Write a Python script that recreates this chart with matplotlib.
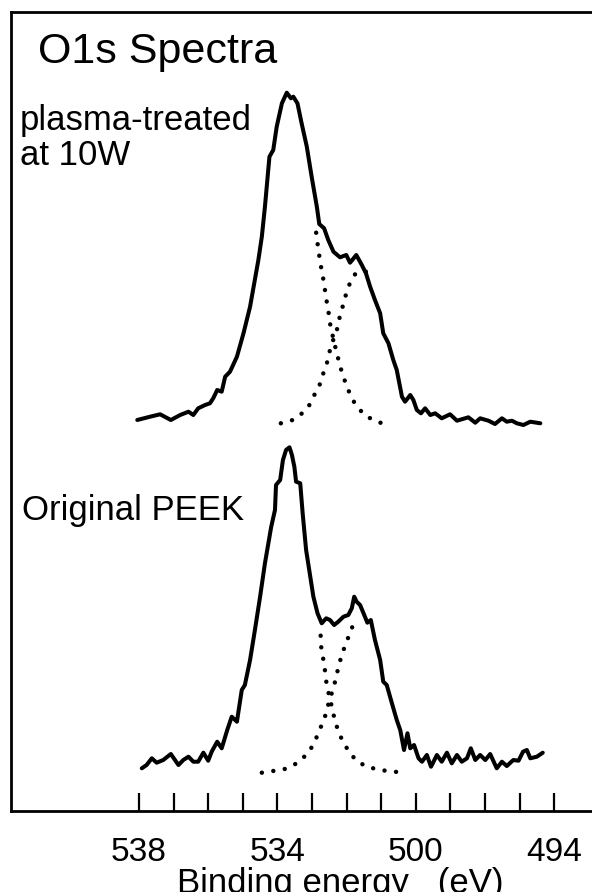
import matplotlib
matplotlib.use("Agg")
import matplotlib.pyplot as plt

plt.rcParams['font.family'] = ['Liberation Sans', 'DejaVu Sans']

# ---------------- data (binding energy in eV, intensity in a.u.) ----------------
treated_E = [538.05, 537.68, 537.39, 537.08, 536.81, 536.57, 536.43, 536.29, 536.09, 535.95,
             535.85, 535.74, 535.61, 535.51, 535.37, 535.17, 534.98, 534.79, 534.55, 534.45,
             534.36, 534.23, 534.12, 534.02, 533.87, 533.73, 533.61, 533.54, 533.42, 533.30,
             533.15, 533.01, 532.86, 532.79, 532.65, 532.53, 532.38, 532.19, 532.01, 531.90,
             531.72, 531.56, 531.44, 531.32, 531.18, 531.03, 530.94, 530.79, 530.65, 530.55,
             530.40, 530.31, 530.16, 530.07, 529.97, 529.85, 529.73, 529.58, 529.44, 529.25,
             529.01, 528.81, 528.48, 528.28, 528.14, 527.90, 527.71, 527.51, 527.37, 527.22,
             527.08, 526.89, 526.69, 526.40]
treated_I = [391.0, 394.3, 396.7, 391.0, 396.0, 399.3, 396.0, 402.7, 406.0, 407.7,
             413.0, 421.0, 419.3, 434.3, 439.3, 454.3, 477.7, 504.3, 551.0, 574.3,
             604.3, 654.3, 661.0, 684.3, 707.7, 718.3, 712.7, 714.3, 707.7, 687.7,
             664.3, 634.3, 604.3, 587.0, 582.7, 571.0, 559.3, 553.7, 556.0, 548.3,
             556.0, 546.0, 537.7, 524.3, 511.0, 497.7, 477.7, 467.7, 451.0, 441.0,
             414.3, 409.3, 416.0, 411.0, 401.0, 397.7, 402.7, 396.0, 397.7, 392.7,
             396.7, 390.3, 393.7, 388.3, 392.7, 390.3, 387.0, 392.7, 389.3, 390.3,
             387.7, 386.0, 389.3, 387.7]

treated_fit1_E = [532.88, 532.84, 532.79, 532.72, 532.65, 532.60, 532.53, 532.48, 532.38, 532.27,
                  532.16, 531.99, 531.78, 531.51, 531.20, 530.82]
treated_fit1_I = [578.3, 567.7, 555.3, 540.3, 527.7, 514.3, 501.0, 487.7, 471.7, 456.0,
                  441.7, 423.7, 408.7, 396.7, 390.3, 386.0]
treated_fit2_E = [533.90, 533.60, 533.34, 533.10, 532.96, 532.79, 532.69, 532.57, 532.48, 532.38,
                  532.25, 532.19, 532.09, 532.01, 531.90, 531.75, 531.61, 531.44]
treated_fit2_I = [387.7, 390.3, 396.0, 404.3, 414.3, 425.0, 436.0, 447.7, 461.0, 471.7,
                  484.3, 496.0, 507.0, 517.7, 528.3, 537.0, 539.3, 539.3]

orig_E = [537.92, 537.78, 537.63, 537.49, 537.30, 537.08, 536.86, 536.72, 536.57, 536.43,
          536.29, 536.14, 536.00, 535.90, 535.74, 535.61, 535.45, 535.32, 535.17, 535.03,
          534.94, 534.79, 534.65, 534.50, 534.36, 534.18, 534.07, 534.04, 533.92, 533.84,
          533.75, 533.65, 533.58, 533.51, 533.46, 533.34, 533.27, 533.17, 533.08, 532.96,
          532.84, 532.72, 532.59, 532.48, 532.36, 532.24, 532.09, 531.95, 531.85, 531.78,
          531.71, 531.61, 531.49, 531.40, 531.30, 531.18, 531.03, 530.94, 530.84, 530.69,
          530.55, 530.45, 530.34, 530.24, 530.16, 530.05, 529.92, 529.82, 529.68, 529.56,
          529.39, 529.25, 529.10, 528.96, 528.81, 528.67, 528.52, 528.41, 528.28, 528.14,
          527.99, 527.85, 527.66, 527.51, 527.37, 527.18, 527.03, 526.90, 526.79, 526.69,
          526.50, 526.33]
orig_I = [42.7, 46.0, 52.7, 48.3, 51.0, 57.0, 46.0, 51.0, 54.3, 49.3,
          49.3, 58.3, 50.3, 59.3, 69.3, 62.7, 81.0, 94.3, 89.3, 121.0,
          126.0, 151.0, 181.0, 214.3, 247.7, 284.0, 301.0, 326.0, 331.0, 351.0,
          361.0, 363.7, 356.0, 344.3, 329.3, 327.7, 297.7, 261.0, 241.0, 214.3,
          197.7, 187.7, 192.7, 191.0, 186.0, 189.3, 194.3, 196.0, 202.7, 214.3,
          209.3, 206.0, 196.0, 188.3, 191.0, 171.0, 151.0, 129.3, 126.0, 107.7,
          91.0, 81.0, 61.0, 77.7, 62.7, 66.0, 52.7, 49.3, 56.0, 44.3,
          56.0, 49.3, 58.3, 47.7, 56.0, 49.3, 52.7, 62.7, 51.0, 56.0,
          51.0, 57.0, 42.7, 49.3, 45.0, 51.0, 50.3, 59.3, 61.0, 52.7,
          54.3, 58.3]

orig_fit1_E = [532.75, 532.73, 532.67, 532.62, 532.57, 532.48, 532.40, 532.30, 532.14, 531.95,
               531.72, 531.42, 531.03, 530.63, 530.26]
orig_fit1_I = [175.3, 162.7, 151.0, 139.3, 124.3, 112.7, 99.3, 86.0, 71.7, 60.3,
               50.3, 44.3, 41.0, 39.3, 38.3]
orig_fit2_E = [534.45, 534.13, 533.81, 533.52, 533.27, 533.08, 532.91, 532.77, 532.62, 532.48,
               532.38, 532.30, 532.21, 532.09, 531.98, 531.90, 531.72]
orig_fit2_I = [38.3, 40.0, 41.7, 46.0, 52.7, 59.3, 70.3, 81.7, 95.0, 112.7,
               122.7, 134.3, 147.7, 161.0, 170.3, 180.3, 190.3]

tick_E = [538, 537, 536, 535, 534, 533, 532, 531, 530, 529, 528, 527, 526]
label_E = [538, 534, 530, 526]
label_text = ["538", "534", "500", "494"]

title_text = "O1s Spectra"
upper_label = ["plasma-treated", "at 10W"]
lower_label = "Original PEEK"
xlabel_text = "Binding energy   (eV)"

# ---------------- figure ----------------
W, H = 592, 892
fig = plt.figure(figsize=(W / 100, H / 100), dpi=100)
ax = fig.add_axes([11 / W, (H - 811) / H, (595 - 11) / W, (811 - 12) / H])

solid = dict(color='black', lw=2.9, solid_joinstyle='round', solid_capstyle='round')
dotted = dict(color='black', lw=3.2, linestyle=(0, (0.01, 2.6)), dash_capstyle='round')

ax.plot(treated_E, treated_I, **solid)
ax.plot(orig_E, orig_I, **solid)
ax.plot(treated_fit1_E, treated_fit1_I, **dotted)
ax.plot(treated_fit2_E, treated_fit2_I, **dotted)
ax.plot(orig_fit1_E, orig_fit1_I, **dotted)
ax.plot(orig_fit2_E, orig_fit2_I, **dotted)

ax.set_xlim(541.70, 524.82)
ax.set_ylim(0, 799)

ax.set_xticks(label_E)
ax.set_xticklabels(label_text)
ax.set_xticks([e for e in tick_E if e not in label_E], minor=True)
ax.tick_params(axis='x', which='both', direction='in', length=13, width=1.6)
ax.tick_params(axis='x', which='major', pad=19, labelsize=24)
ax.set_yticks([])

for side in ['left', 'top', 'bottom']:
    ax.spines[side].set_linewidth(2.0)
ax.spines['right'].set_visible(False)

fig.text(38 / W, (H - 63) / H, title_text, fontsize=31, va='baseline', ha='left')
fig.text(20 / W, (H - 130) / H, upper_label[0], fontsize=25, va='baseline', ha='left')
fig.text(20 / W, (H - 165) / H, upper_label[1], fontsize=25, va='baseline', ha='left')
fig.text(22 / W, (H - 520) / H, lower_label, fontsize=25, va='baseline', ha='left')
fig.text(340 / W, (H - 893) / H, xlabel_text, fontsize=25, va='baseline', ha='center')

fig.savefig("out.png", dpi=100)
